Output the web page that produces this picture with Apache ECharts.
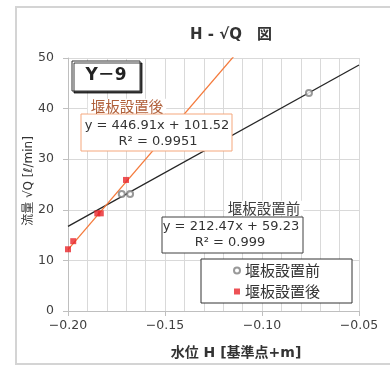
<!DOCTYPE html>
<html>
<head>
<meta charset="utf-8">
<script src="https://cdn.jsdelivr.net/npm/echarts@6/dist/echarts.min.js"></script>
<style>
  html, body { margin: 0; padding: 0; background: #fff; }
  #chart { width: 390px; height: 365px; }
</style>
</head>
<body>
<div id="chart"></div>
<script>
// Measured water level H and flow √Q, before / after the weir plate
const beforeH = [-0.1723, -0.1680, -0.0758];
const beforeQ = [23.1, 23.1, 43.1];
const afterH = [-0.2000, -0.1973, -0.1849, -0.1831, -0.1701];
const afterQ = [12.2, 13.8, 19.3, 19.3, 25.9];

// Linear fits [slope, intercept] and their R²
const beforeFit = [212.47, 59.23];
const afterFit = [446.91, 101.52];
const beforeR2 = '0.999';
const afterR2 = '0.9951';
const fitRange = [-0.20, -0.05];

const seriesNames = ['堰板設置前', '堰板設置後'];
const xTicks = [-0.20, -0.15, -0.10, -0.05];
const yTicks = [0, 10, 20, 30, 40, 50];

const FONT = '"DejaVu Sans", "Noto Sans CJK JP", sans-serif';
const CJK = '"Noto Sans CJK JP", "DejaVu Sans", sans-serif';

function pairs(xs, ys) { return xs.map((x, i) => [x, ys[i]]); }
function fitLine(fit) { return fitRange.map(x => [x, fit[0] * x + fit[1]]); }
function fmtX(v) { return (v < 0 ? '\u2212' : '') + Math.abs(v).toFixed(2); }
function eqText(fit) { return 'y = ' + fit[0].toFixed(2) + 'x + ' + fit[1].toFixed(2); }

const chart = echarts.init(document.getElementById('chart'), null, { renderer: 'canvas' });

chart.setOption({
  animation: false,
  backgroundColor: '#fff',
  grid: { left: 68, right: 31, top: 58, bottom: 54 },
  title: {
    text: 'H - √Q　図',
    left: 226, top: 23, textAlign: 'center',
    textStyle: { fontFamily: FONT, fontSize: 15, fontWeight: 'bold', color: '#333' }
  },
  legend: {
    left: 201, top: 259,
    orient: 'vertical',
    data: seriesNames,
    borderColor: '#333', borderWidth: 1,
    backgroundColor: '#fff',
    padding: [4, 32, 4, 32],
    itemGap: 6, itemWidth: 6, itemHeight: 6,
    textStyle: { fontFamily: CJK, fontSize: 15, color: '#333' },
    z: 10
  },
  xAxis: [
    {
      type: 'value', min: xTicks[0], max: xTicks[xTicks.length - 1], interval: 0.05,
      axisLine: { show: true, lineStyle: { color: '#bfbfbf', width: 1 } },
      axisTick: { show: true, length: 5, lineStyle: { color: '#bfbfbf' } },
      axisLabel: { formatter: fmtX, margin: 8, fontFamily: FONT, fontSize: 12.5, color: '#404040' },
      splitLine: { show: false }
    },
    {
      type: 'value', min: xTicks[0], max: xTicks[xTicks.length - 1], interval: 0.01,
      position: 'bottom',
      axisLine: { show: false }, axisTick: { show: false }, axisLabel: { show: false },
      splitLine: { show: true, lineStyle: { color: '#d9d9d9', width: 1 } }
    }
  ],
  yAxis: {
    type: 'value', min: yTicks[0], max: yTicks[yTicks.length - 1], interval: 10,
    axisLine: { show: true, lineStyle: { color: '#bfbfbf', width: 1 } },
    axisTick: { show: true, length: 5, lineStyle: { color: '#bfbfbf' } },
    axisLabel: { margin: 14, fontFamily: FONT, fontSize: 12.5, color: '#404040' },
    splitLine: { show: true, lineStyle: { color: '#d9d9d9', width: 1 } }
  },
  series: [
    {
      name: 'fit-before', type: 'line', data: fitLine(beforeFit), showSymbol: false,
      lineStyle: { color: '#262626', width: 1.3 }, silent: true, z: 2
    },
    {
      name: 'fit-after', type: 'line', data: fitLine(afterFit), showSymbol: false, clip: true,
      lineStyle: { color: '#f47a3c', width: 1.3 }, silent: true, z: 2
    },
    {
      name: seriesNames[0], type: 'scatter', data: pairs(beforeH, beforeQ),
      symbol: 'emptyCircle', symbolSize: 6,
      itemStyle: { color: '#7f7f7f', borderColor: '#7f7f7f', borderWidth: 1 }, z: 3
    },
    {
      name: seriesNames[1], type: 'scatter', data: pairs(afterH, afterQ),
      symbol: 'rect', symbolSize: 6,
      itemStyle: { color: '#e8262a' }, z: 4
    }
  ],
  graphic: [
    // outer frame
    { type: 'rect', shape: { x: 16, y: 7, width: 390, height: 357 },
      style: { fill: 'none', stroke: '#d4d4d4', lineWidth: 2 }, silent: true, z: 0 },
    // station tag
    { type: 'rect', shape: { x: 72, y: 61, width: 68, height: 30 },
      style: { fill: '#fff', stroke: '#333', lineWidth: 1,
        shadowColor: 'rgba(0,0,0,0.75)', shadowOffsetX: 2, shadowOffsetY: 2, shadowBlur: 0 }, z: 20 },
    { type: 'text', x: 106, y: 76, z: 21,
      style: { text: 'Y－9', align: 'center', verticalAlign: 'middle',
        font: 'bold 17px ' + FONT, fill: '#222' } },
    // after-fit label and equation box
    { type: 'text', x: 127, y: 106, z: 21,
      style: { text: seriesNames[1], align: 'center', verticalAlign: 'middle',
        font: '14.5px ' + CJK, fill: '#b0603a', backgroundColor: '#fff', padding: [0, 3] } },
    { type: 'rect', shape: { x: 81, y: 114, width: 151, height: 37 },
      style: { fill: '#fff', stroke: '#f5a77c', lineWidth: 1 }, z: 20 },
    { type: 'text', x: 157, y: 126, z: 21,
      style: { text: eqText(afterFit), align: 'center', verticalAlign: 'middle',
        font: '13px ' + FONT, fill: '#333' } },
    { type: 'text', x: 158, y: 142, z: 21,
      style: { text: 'R² = ' + afterR2, align: 'center', verticalAlign: 'middle',
        font: '13px ' + FONT, fill: '#333' } },
    // before-fit label and equation box
    { type: 'text', x: 264, y: 208, z: 21,
      style: { text: seriesNames[0], align: 'center', verticalAlign: 'middle',
        font: '14.5px ' + CJK, fill: '#404040', backgroundColor: '#fff', padding: [0, 3] } },
    { type: 'rect', shape: { x: 162, y: 217, width: 141, height: 36 },
      style: { fill: '#fff', stroke: '#404040', lineWidth: 1 }, z: 20 },
    { type: 'text', x: 231, y: 227, z: 21,
      style: { text: eqText(beforeFit), align: 'center', verticalAlign: 'middle',
        font: '13px ' + FONT, fill: '#333' } },
    { type: 'text', x: 230, y: 243, z: 21,
      style: { text: 'R² = ' + beforeR2, align: 'center', verticalAlign: 'middle',
        font: '13px ' + FONT, fill: '#333' } },
    // axis names
    { type: 'text', x: 236, y: 353, z: 21,
      style: { text: '水位 H [基準点+m]', align: 'center', verticalAlign: 'middle',
        font: 'bold 14px ' + FONT, fill: '#333' } },
    { type: 'text', x: 29, y: 181, rotation: Math.PI / 2, z: 21,
      style: { text: '流量 √Q [ℓ/min]', align: 'center', verticalAlign: 'middle',
        font: '12px ' + FONT, fill: '#333' } }
  ]
});
</script>
</body>
</html>
